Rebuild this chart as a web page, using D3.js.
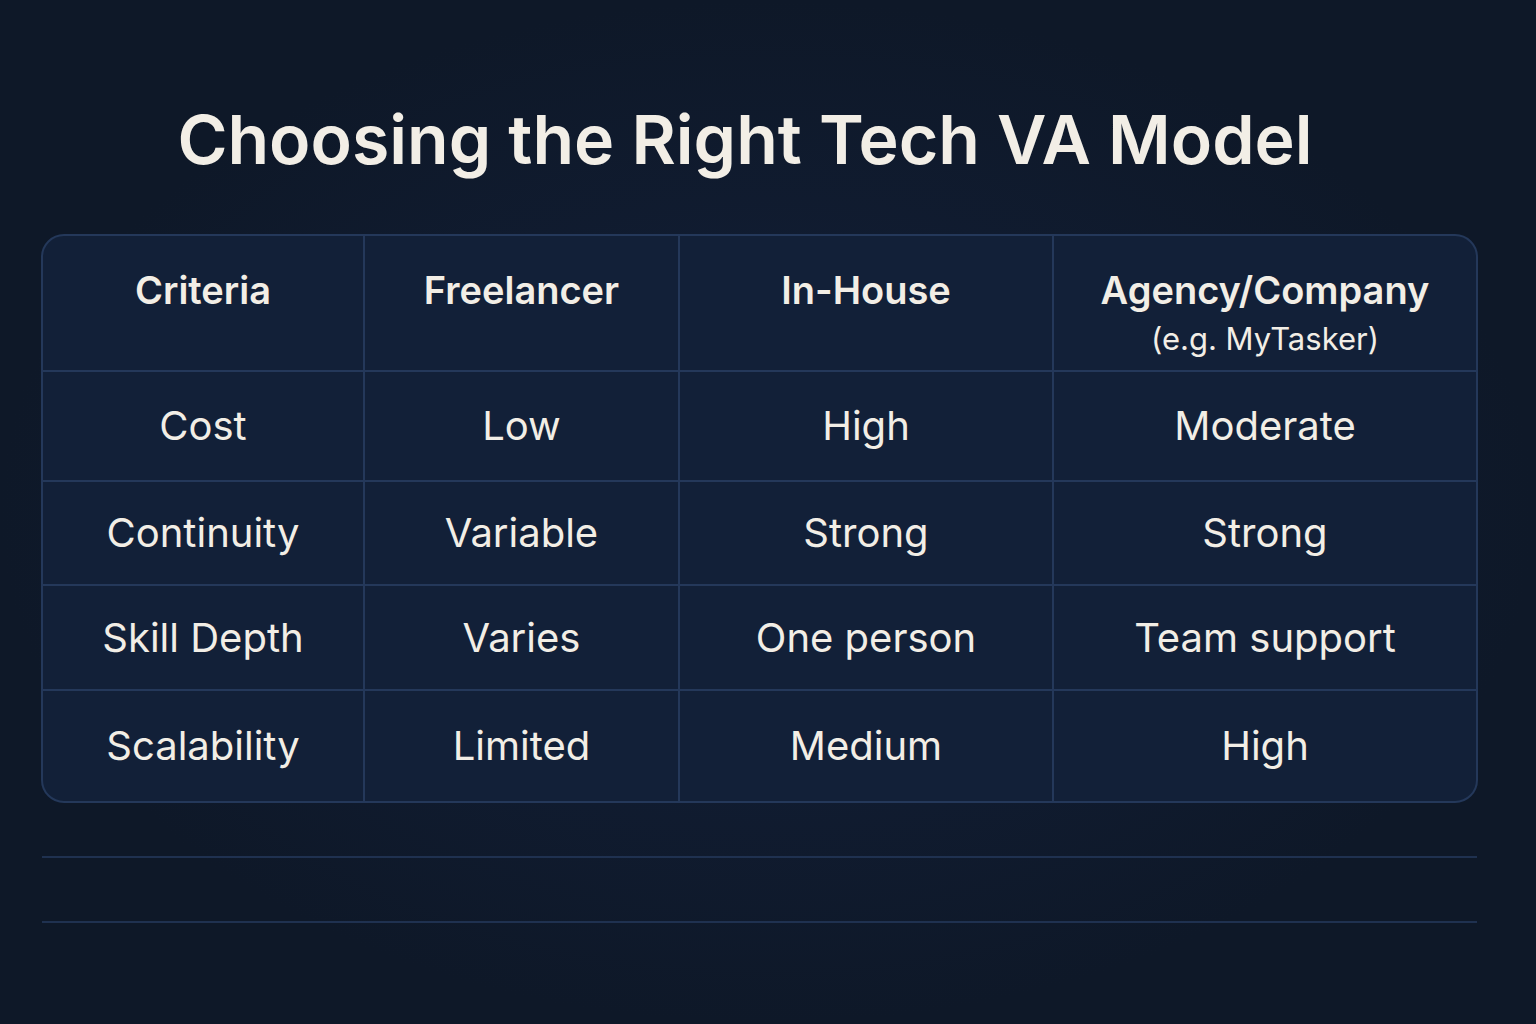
<!DOCTYPE html>
<html><head><meta charset="utf-8">
<script src="https://cdn.jsdelivr.net/npm/d3@7"></script>
<style>body{margin:0;background:#0f1a2b;}</style>
</head><body><div id="app"></div>
<script>
const title = 'Choosing the Right Tech VA Model';
const headers = ['Criteria', 'Freelancer', 'In-House', 'Agency/Company'];
const headerNote = ['', '', '', '(e.g. MyTasker)'];
const criteria = ['Cost', 'Continuity', 'Skill Depth', 'Scalability'];
const freelancer = ['Low', 'Variable', 'Varies', 'Limited'];
const inHouse = ['High', 'Strong', 'One person', 'Medium'];
const agency = ['Moderate', 'Strong', 'Team support', 'High'];

// column and row edges in page pixels
const colEdges = [42, 364, 679, 1053, 1477];
const rowEdges = [235, 371, 481, 585, 690, 802];
const textCol = '#f2eee6';
const lineCol = '#24385a';

const svg = d3.select('#app').append('svg')
  .attr('width', 1536).attr('height', 1024)
  .style('font-family', 'Inter, "Noto Sans", sans-serif');

const bg = svg.append('defs').append('radialGradient').attr('id', 'bg');
bg.append('stop').attr('offset', '0%').attr('stop-color', '#13203a');
bg.append('stop').attr('offset', '100%').attr('stop-color', '#0e1828');
svg.append('rect').attr('width', 1536).attr('height', 1024).attr('fill', 'url(#bg)');

svg.append('text').attr('x', 745).attr('y', 164).attr('text-anchor', 'middle')
  .attr('fill', textCol).attr('font-size', 68).attr('font-weight', 600)
  .text(title);

svg.append('rect')
  .attr('x', colEdges[0]).attr('y', rowEdges[0])
  .attr('width', colEdges[4] - colEdges[0]).attr('height', rowEdges[5] - rowEdges[0])
  .attr('rx', 22).attr('fill', '#122038').attr('stroke', lineCol).attr('stroke-width', 2);

svg.selectAll('line.v').data(colEdges.slice(1, -1)).enter().append('line')
  .attr('x1', d => d).attr('x2', d => d)
  .attr('y1', rowEdges[0]).attr('y2', rowEdges[5])
  .attr('stroke', lineCol).attr('stroke-width', 2);
svg.selectAll('line.h').data(rowEdges.slice(1, -1)).enter().append('line')
  .attr('x1', colEdges[0]).attr('x2', colEdges[4])
  .attr('y1', d => d).attr('y2', d => d)
  .attr('stroke', lineCol).attr('stroke-width', 2);

// footer lines
svg.selectAll('line.f').data([857, 922]).enter().append('line')
  .attr('x1', 42).attr('x2', 1477).attr('y1', d => d).attr('y2', d => d)
  .attr('stroke', '#1f3150').attr('stroke-width', 2);

const cx = i => (colEdges[i] + colEdges[i + 1]) / 2;

headers.forEach((h, i) => {
  svg.append('text').attr('x', cx(i)).attr('y', 304).attr('text-anchor', 'middle')
    .attr('fill', textCol).attr('font-size', 38).attr('font-weight', 600).text(h);
  if (headerNote[i]) {
    svg.append('text').attr('x', cx(i)).attr('y', 350).attr('text-anchor', 'middle')
      .attr('fill', textCol).attr('font-size', 31).text(headerNote[i]);
  }
});

const cols = [criteria, freelancer, inHouse, agency];
cols.forEach((col, i) => {
  col.forEach((v, r) => {
    const cy = (rowEdges[r + 1] + rowEdges[r + 2]) / 2;
    svg.append('text').attr('x', cx(i)).attr('y', cy).attr('dy', '0.36em')
      .attr('text-anchor', 'middle').attr('fill', textCol)
      .attr('font-size', 40).text(v);
  });
});
</script></body></html>
